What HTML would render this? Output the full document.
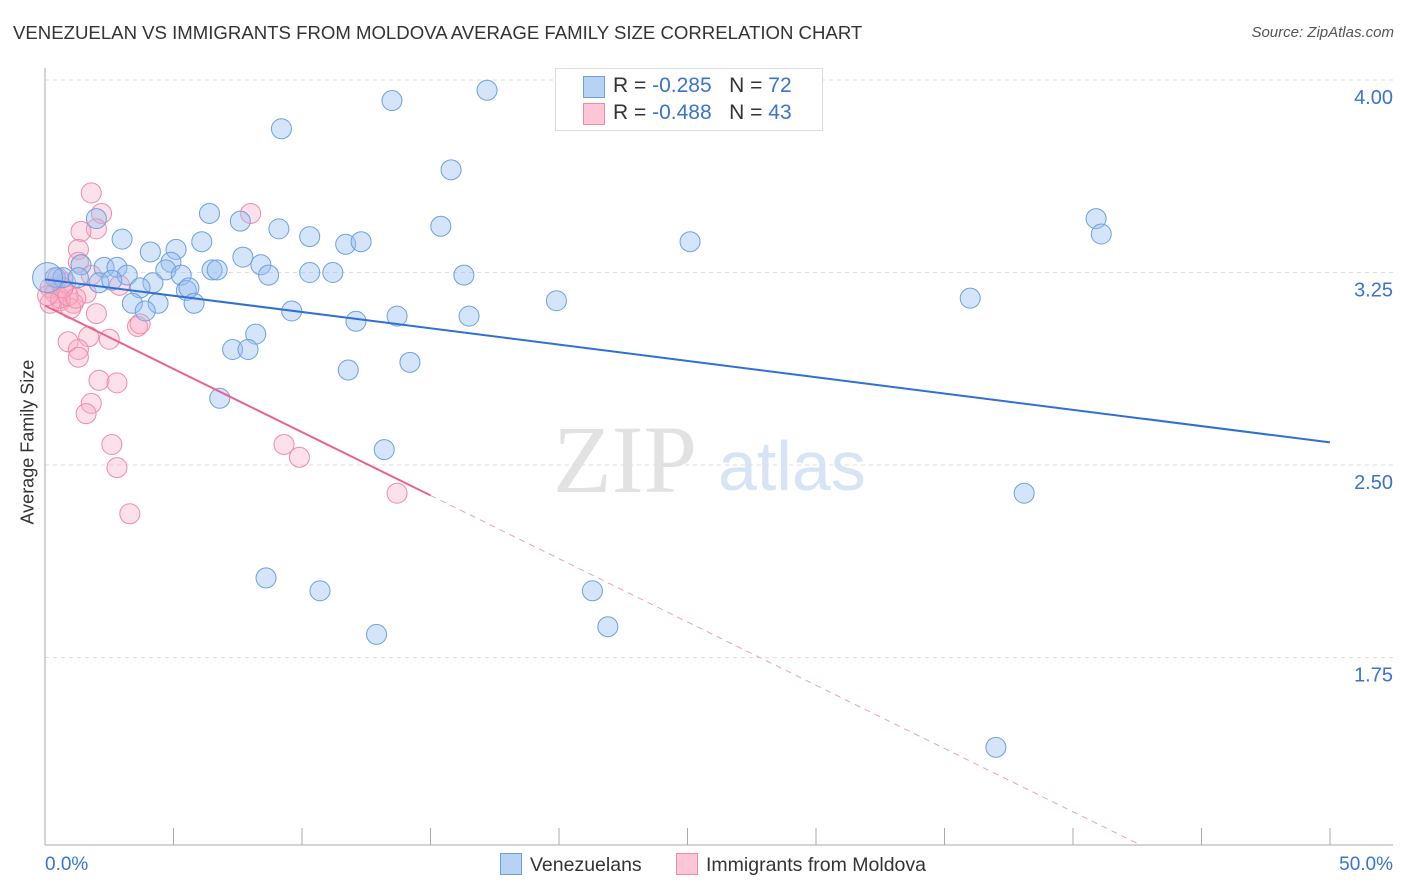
<!DOCTYPE html>
<html><head><meta charset="utf-8"><style>
body{margin:0;background:#fff;font-family:"Liberation Sans",sans-serif;}
#wrap{position:relative;width:1406px;height:892px;overflow:hidden;}
.t{position:absolute;white-space:nowrap;}
</style></head><body>
<div id="wrap">
<div class="t" style="left:13px;top:22px;font-size:18.6px;color:#333;">VENEZUELAN VS IMMIGRANTS FROM MOLDOVA AVERAGE FAMILY SIZE CORRELATION CHART</div>
<div class="t" style="right:12px;top:24px;font-size:15px;color:#555;font-style:italic;">Source: ZipAtlas.com</div>
<svg id="svg" width="1406" height="892" style="position:absolute;left:0;top:0"></svg>
<div style="position:absolute;left:555px;top:68px;width:266px;height:61px;border:1px solid #ddd;background:#fff;font-size:21px;">
 <div style="position:absolute;left:27px;top:7px;width:20px;height:20px;background:#b8d2f4;border:1px solid #6d9fe0;"></div>
 <div class="t" style="left:57px;top:5px;color:#333">R = <span style="color:#3a73d0">-0.285</span>&nbsp;&nbsp;&nbsp;N = <span style="color:#3a73d0">72</span></div>
 <div style="position:absolute;left:27px;top:34px;width:20px;height:20px;background:#fcc6d6;border:1px solid #f08aa8;"></div>
 <div class="t" style="left:57px;top:32px;color:#333">R = <span style="color:#3a73d0">-0.488</span>&nbsp;&nbsp;&nbsp;N = <span style="color:#3a73d0">43</span></div>
</div>
<div style="position:absolute;left:500px;top:853px;font-size:19.5px;color:#333;">
 <span style="display:inline-block;width:20px;height:20px;background:#b8d2f4;border:1px solid #6d9fe0;vertical-align:-4px;margin-right:8px"></span>Venezuelans</div>
<div style="position:absolute;left:676px;top:853px;font-size:19.5px;color:#333;">
 <span style="display:inline-block;width:20px;height:20px;background:#fcc6d6;border:1px solid #f08aa8;vertical-align:-4px;margin-right:8px"></span>Immigrants from Moldova</div>
<div class="t" style="left:-42px;top:444px;font-size:18px;color:#333;transform:rotate(-90deg);width:140px;text-align:center;">Average Family Size</div>
</div>
<script>
const blueX=[17.2,13.5,9.2,15.8,2.0,6.4,7.6,9.1,10.3,15.4,40.9,41.1,3.0,4.1,5.1,6.1,11.7,12.3,25.1,7.7,4.9,4.7,6.5,6.7,8.4,8.7,10.3,11.2,16.3,1.4,2.3,2.8,3.2,5.3,0.4,0.7,1.3,2.1,2.6,4.2,3.7,5.5,5.6,3.4,4.4,5.8,3.9,9.6,12.1,13.7,16.5,19.9,36.0,8.2,7.3,7.9,11.8,14.2,6.8,13.2,38.1,8.6,10.7,21.3,12.9,21.9,37.0,0.1];
const blueY=[3.96,3.92,3.81,3.65,3.46,3.48,3.45,3.42,3.39,3.43,3.46,3.40,3.38,3.33,3.34,3.37,3.36,3.37,3.37,3.31,3.29,3.26,3.26,3.26,3.28,3.24,3.25,3.25,3.24,3.28,3.27,3.27,3.24,3.24,3.23,3.23,3.23,3.21,3.22,3.21,3.19,3.18,3.19,3.13,3.13,3.13,3.10,3.10,3.06,3.08,3.08,3.14,3.15,3.01,2.95,2.95,2.87,2.90,2.76,2.56,2.39,2.06,2.01,2.01,1.84,1.87,1.40,3.23];
const pinkX=[1.8,2.2,8.0,2.0,1.4,1.3,1.3,1.8,2.9,1.6,1.1,0.6,1.0,2.0,3.6,3.7,1.7,0.9,2.5,1.3,1.3,2.1,2.8,1.8,1.6,2.6,9.3,9.9,2.8,3.3,13.7,0.2,0.4,0.6,0.8,0.2,0.5,0.9,1.2,0.1,0.7];
const pinkY=[3.56,3.48,3.48,3.42,3.41,3.34,3.29,3.24,3.20,3.17,3.13,3.14,3.11,3.09,3.04,3.05,3.00,2.98,2.99,2.95,2.92,2.83,2.82,2.74,2.70,2.58,2.58,2.53,2.49,2.31,2.39,3.19,3.17,3.15,3.21,3.13,3.23,3.16,3.15,3.16,3.19];
const yTicks=[4.00,3.25,2.50,1.75];
const yTickLabels=["4.00","3.25","2.50","1.75"];
const blueFit=[3.223,-0.0127];
const pinkFit=[3.121,-0.0493];
const pinkSolidEnd=15;

const X0=45,X1=1330,YTOP=80,YBOT=845;
const sx=v=>X0+(v/50)*(X1-X0);
const sy=v=>YTOP+(4-v)/0.75*192.5;
const svg=document.getElementById('svg');
const NS='http://www.w3.org/2000/svg';
function mk(tag,attrs,parent){const e=document.createElementNS(NS,tag);for(const k in attrs)e.setAttribute(k,attrs[k]);(parent||svg).appendChild(e);return e;}

const wm=mk('text',{x:553,y:492,'font-family':'Liberation Serif, serif','font-size':96,fill:'#e2e2e2'});wm.textContent='ZIP';


const wm2=mk('text',{x:718,y:490,'font-family':'Liberation Sans, sans-serif','font-size':70,fill:'#d6e4f6'});wm2.textContent='atlas';



yTicks.forEach((t,i)=>{
 const g=mk('line',{x1:X0,x2:1393,y1:sy(t),y2:sy(t),stroke:'#ddd','stroke-dasharray':'4,4'});
 
 
 const l=mk('text',{x:1393,y:sy(t)+24,'text-anchor':'end','font-size':20,fill:'#3a73d0','font-family':'Liberation Sans, sans-serif'});
 l.textContent=yTickLabels[i];
 
 
});
const ax=mk('line',{x1:X0,x2:1393,y1:YBOT,y2:YBOT,stroke:'#aaa'});


const ay=mk('line',{x1:X0,x2:X0,y1:68,y2:YBOT,stroke:'#aaa'});


for(let p=0;p<=50;p+=5){
 const tk=mk('line',{x1:sx(p),x2:sx(p),y1:828,y2:YBOT,stroke:'#aaa'});
 
 
}
const xl0=mk('text',{x:45,y:870,'font-size':19,fill:'#3a73d0','font-family':'Liberation Sans, sans-serif'});xl0.textContent='0.0%';


const xl1=mk('text',{x:1393,y:870,'text-anchor':'end','font-size':19,fill:'#3a73d0','font-family':'Liberation Sans, sans-serif'});xl1.textContent='50.0%';



pinkX.forEach((x,i)=>{
 const c=mk('circle',{cx:sx(x),cy:sy(pinkY[i]),r:10,fill:'rgba(248,170,195,0.35)',stroke:'#f08aa8','stroke-width':1});
 
 
});
blueX.forEach((x,i)=>{
 const big=i===blueX.length-1;
 const c=mk('circle',{cx:sx(x),cy:sy(blueY[i]),r:big?15:10,fill:'rgba(150,190,240,0.4)',stroke:'#6d9fe0','stroke-width':1});
 
 
});
const bl=mk('line',{x1:sx(0),y1:sy(blueFit[0]),x2:sx(50),y2:sy(blueFit[0]+blueFit[1]*50),stroke:'#2f6fd6','stroke-width':2});


const pl=mk('line',{x1:sx(0),y1:sy(pinkFit[0]),x2:sx(pinkSolidEnd),y2:sy(pinkFit[0]+pinkFit[1]*pinkSolidEnd),stroke:'#e8648c','stroke-width':2});


const yEnd=4-(YBOT-YTOP)/192.5*0.75, xEnd=(yEnd-pinkFit[0])/pinkFit[1];
const pd=mk('line',{x1:sx(pinkSolidEnd),y1:sy(pinkFit[0]+pinkFit[1]*pinkSolidEnd),x2:sx(xEnd),y2:sy(yEnd),stroke:'#eea0b8','stroke-width':1,'stroke-dasharray':'6,5'});


</script>
</body></html>
